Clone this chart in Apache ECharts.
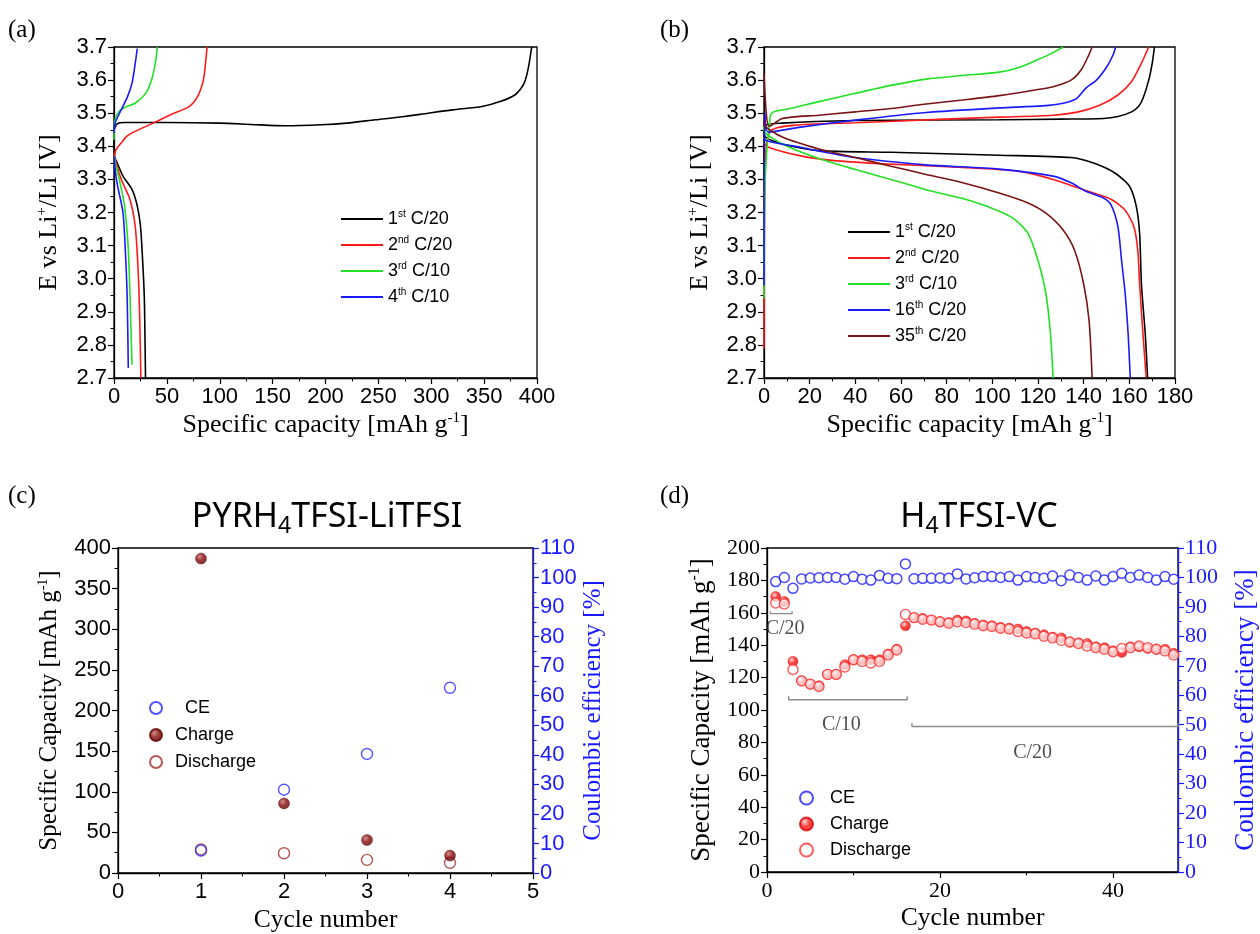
<!DOCTYPE html>
<html>
<head>
<meta charset="utf-8">
<script src="https://cdn.jsdelivr.net/npm/echarts@6/dist/echarts.min.js"></script>
<style>
html,body{margin:0;padding:0;background:#fff;}
#c{width:1260px;height:934px;}
</style>
</head>
<body>
<div id="c"></div>
<script>
// ---------- Panel (a): voltage profiles, PYRH4TFSI-LiTFSI ----------
const A_LABELS = ['1st C/20', '2nd C/20', '3rd C/10', '4th C/10'];
const A1_CHARGE = [[0,3.45],[3,3.468],[10,3.472],[50,3.472],[100,3.47],[130,3.466],[162,3.462],[196,3.465],[220,3.47],[247,3.48],[275,3.49],[297,3.5],[320,3.51],[348,3.52],[365,3.535],[379,3.555],[386,3.58],[389,3.6],[392,3.64],[395,3.7]];
const A1_DISCH = [[0,3.46],[0.5,3.37],[3,3.35],[8.5,3.31],[17,3.27],[22,3.22],[25,3.16],[27,3.06],[28.7,2.94],[29.3,2.82],[29.8,2.7]];
const A2_CHARGE = [[0,3.37],[2,3.39],[6.8,3.41],[12,3.43],[20,3.445],[37,3.47],[54,3.496],[71,3.52],[79,3.55],[84.5,3.6],[86.5,3.65],[88,3.7]];
const A2_DISCH = [[0,3.37],[3,3.34],[6.8,3.3],[15,3.24],[20,3.16],[22.6,3.04],[24.3,2.885],[25.4,2.7]];
const A3_CHARGE = [[0,3.42],[1,3.48],[5,3.506],[12,3.52],[20,3.53],[30,3.56],[35.5,3.6],[39,3.65],[41,3.7]];
const A3_DISCH = [[0,3.37],[2,3.34],[5,3.3],[10,3.22],[13.5,3.09],[15.2,2.94],[17,2.74]];
const A4_CHARGE = [[0,3.44],[1,3.47],[6.8,3.51],[12.8,3.55],[17,3.59],[19.6,3.64],[22,3.695]];
const A4_DISCH = [[0,3.37],[1.5,3.32],[3.4,3.28],[8.5,3.2],[10.8,3.08],[12.5,2.94],[13.5,2.73]];

// ---------- Panel (b): voltage profiles, H4TFSI-VC ----------
const B_LABELS = ['1st C/20', '2nd C/20', '3rd C/10', '16th C/20', '35th C/20'];
const B1_CHARGE = [[0,3.3],[0.5,3.46],[8,3.47],[40,3.478],[103,3.48],[130,3.482],[148.7,3.484],[155,3.49],[161,3.504],[164,3.52],[166,3.545],[168.5,3.6],[170,3.65],[171,3.7]];
const B1_DISCH = [[0,3.45],[0.3,3.43],[8,3.407],[24,3.387],[55.6,3.382],[103,3.373],[134.5,3.366],[144,3.35],[153.5,3.32],[160,3.28],[163,3.22],[164.5,3.137],[165.3,2.984],[167,2.83],[168,2.7]];
const B2_CHARGE = [[0,2.79],[0.3,3.3],[2.7,3.445],[16,3.465],[40,3.471],[79,3.482],[103,3.488],[126.6,3.494],[137.7,3.504],[147,3.524],[155,3.555],[161,3.596],[165,3.647],[168.5,3.7]];
const B2_DISCH = [[0,3.41],[1.9,3.397],[16,3.371],[32,3.356],[55.6,3.346],[87,3.336],[111,3.325],[126.6,3.3],[142,3.264],[152,3.24],[158,3.208],[162,3.157],[163.7,3.086],[164.5,2.984],[166,2.83],[167.4,2.7]];
const B3_CHARGE = [[0,2.94],[0.5,3.3],[2.7,3.49],[4.3,3.504],[11.4,3.514],[24,3.535],[40,3.56],[55.6,3.584],[71,3.603],[87,3.614],[103,3.624],[112,3.639],[120,3.662],[126.6,3.683],[131,3.7]];
const B3_DISCH = [[0,3.46],[0.3,3.443],[8,3.407],[24,3.363],[40,3.33],[55.6,3.3],[71,3.269],[87,3.242],[99.8,3.213],[109,3.183],[115.6,3.137],[120,3.055],[123.5,2.953],[125.5,2.83],[126.6,2.7]];
const B16_CHARGE = [[0,2.98],[0.4,3.5],[1.9,3.443],[16,3.458],[40,3.479],[71,3.502],[103,3.516],[122,3.522],[131,3.53],[137,3.545],[141,3.576],[145.6,3.6],[150.3,3.642],[153,3.678],[154,3.7]];
const B16_DISCH = [[0,3.44],[0.3,3.42],[16,3.397],[40,3.366],[71,3.344],[103,3.331],[126.6,3.31],[134.5,3.29],[141,3.264],[148.7,3.244],[152,3.223],[155,3.157],[156.6,3.055],[158.2,2.953],[159.5,2.83],[160.4,2.7]];
const B35_CHARGE = [[0,3.62],[1,3.5],[2.2,3.46],[8,3.484],[24,3.494],[40,3.504],[55.6,3.514],[71,3.528],[87,3.54],[103,3.553],[118.7,3.57],[126.6,3.58],[134.5,3.6],[139,3.632],[142.4,3.678],[143.7,3.7]];
const B35_DISCH = [[0,3.48],[0.3,3.463],[8,3.428],[24,3.392],[40,3.366],[55.6,3.34],[71,3.315],[87,3.29],[103,3.259],[115.6,3.229],[123.5,3.198],[131,3.147],[136,3.086],[140,2.984],[142.4,2.871],[143.7,2.7]];

// ---------- Panel (c): cycling, PYRH4TFSI-LiTFSI ----------
const C_CYCLES = [1, 2, 3, 4];
const C_CE = [7.6, 28.2, 40.3, 62.7];
const C_CHARGE = [387, 85.6, 40.6, 21.5];
const C_DISCHARGE = [29, 24.3, 16.2, 12.6];

// ---------- Panel (d): cycling, H4TFSI-VC ----------
const D_CYCLES = [1,2,3,4,5,6,7,8,9,10,11,12,13,14,15,16,17,18,19,20,21,22,23,24,25,26,27,28,29,30,31,32,33,34,35,36,37,38,39,40,41,42,43,44,45,46,47];
const D_CE = [98.6,100,96.3,99.5,99.8,99.9,100,100,99.4,100.3,99.4,99.1,100.7,99.7,99.6,104.6,99.6,99.7,99.7,99.8,99.7,101.2,99.5,99.9,100.3,100.3,100,100.3,99.1,100.3,100,99.7,100.5,98.9,100.8,100,99.1,100.5,99.1,100.3,101.4,100,100.8,100,99.1,100.3,99.4];
const D_CHARGE = [170,167,130,118,116,115,122,122,128,131,131,131,131,134.5,137.5,152,157,156.5,155.5,154.5,154,155.5,155,153.5,152.5,152,151,150.5,150,148.5,147.5,146.5,145,144.5,142,141.5,141,139,138.5,136.5,135.5,139,139,138,137.5,137.5,135];
const D_DISCHARGE = [166,165.5,125,118,116,114.5,122,122,126.5,131,130,129,130,134,137,159,157,156,155.5,154.5,153.5,154.5,154,153,152,151.5,150.5,150,148.5,147.5,147,145.5,144.5,143,142,141,139.5,138.5,137.5,136,138,138.5,139.5,138.5,137.5,136.5,134];
// rate brackets and labels (cycle, capacity)
const D_BRACKET_1 = [[0.4,161],[0.4,159.5],[2.9,159.5],[2.9,161]];
const D_BRACKET_2 = [[2.5,108.5],[2.5,106.3],[16.2,106.3],[16.2,108.5]];
const D_BRACKET_3 = [[16.75,92],[16.75,89.8],[47.5,89.8],[47.5,92]];
const D_ANNOT = [[2.1,150,'C/20'],[8.6,90.8,'C/10'],[30.7,73.6,'C/20']];

// ---------------------------------------------------------------
const SANS = 'Liberation Sans';
const SERIF = 'Liberation Serif';
const BLUE = '#1a1aff';

function pairs(xs, ys){ return xs.map((x,i)=>[x, ys[i]]); }

function supRich(size, font, color){
  return {
    n: {fontFamily: font, fontSize: size, color: color},
    s: {fontFamily: font, fontSize: Math.round(size*0.58), color: color, padding: [0,0,Math.round(size*0.55),0]}
  };
}
function ordFormatter(name){
  const s = name.split(':')[1];
  const m = s.match(/^(\d+)(st|nd|rd|th)(.*)$/);
  return '{n|' + m[1] + '}{s|' + m[2] + '}{n|' + m[3] + '}';
}
function nameStyle(size, color){
  return {fontFamily: SERIF, fontSize: size, color: color,
    rich: {t: {fontFamily: SERIF, fontSize: size, color: color},
           s: {fontFamily: SERIF, fontSize: Math.round(size*0.58), color: color, padding: [0,0,Math.round(size*0.5),0]}}};
}

function xAxisBase(grid, min, max, interval, name, labelFont, nameSize, nameGap){
  return {
    type: 'value', gridIndex: grid, min: min, max: max, interval: interval,
    axisLine: {show: true, onZero: false, lineStyle: {color: '#000', width: 1.3}},
    axisTick: {show: true, inside: false, length: 6, lineStyle: {color: '#000', width: 1.2}},
    minorTick: {show: true, splitNumber: 2, length: 3.5, lineStyle: {color: '#000', width: 1}},
    splitLine: {show: false},
    axisLabel: {fontFamily: labelFont, fontSize: 22, color: '#000', margin: 8},
    name: name, nameLocation: 'middle', nameGap: nameGap,
    nameTextStyle: nameStyle(nameSize, '#000')
  };
}
function yAxisBase(grid, min, max, interval, name, labelFont, nameSize, nameGap, color, pos, fmt){
  return {
    type: 'value', gridIndex: grid, min: min, max: max, interval: interval, position: pos,
    axisLine: {show: true, onZero: false, lineStyle: {color: color, width: 1.3}},
    axisTick: {show: true, inside: false, length: 6, lineStyle: {color: color, width: 1.2}},
    minorTick: {show: true, splitNumber: 2, length: 3.5, lineStyle: {color: color, width: 1}},
    splitLine: {show: false},
    axisLabel: {fontFamily: labelFont, fontSize: 22, color: color, margin: 7, formatter: fmt},
    name: name, nameLocation: 'middle', nameGap: nameGap,
    nameTextStyle: nameStyle(nameSize, color)
  };
}

function curve(name, data, color, xi, yi){
  return {type: 'line', name: name, xAxisIndex: xi, yAxisIndex: yi, data: data,
    symbol: 'none', smooth: 0.25, lineStyle: {color: color, width: 1.6}, itemStyle: {color: color},
    silent: true, animation: false, z: 3};
}
function ball(light, mid, dark){
  return {type: 'radial', x: 0.38, y: 0.35, r: 0.7,
    colorStops: [{offset: 0, color: light}, {offset: 0.45, color: mid}, {offset: 1, color: dark}]};
}

const A_COLORS = ['#000000', '#ff1a1a', '#22e022', '#1a1aff'];
const B_COLORS = ['#000000', '#ff1a1a', '#22e022', '#1a1aff', '#7a1414'];
const A_DATA = [[A1_CHARGE, A1_DISCH],[A2_CHARGE, A2_DISCH],[A3_CHARGE, A3_DISCH],[A4_CHARGE, A4_DISCH]];
const B_DATA = [[B1_CHARGE, B1_DISCH],[B2_CHARGE, B2_DISCH],[B3_CHARGE, B3_DISCH],[B16_CHARGE, B16_DISCH],[B35_CHARGE, B35_DISCH]];

const series = [];
A_DATA.forEach((d, i) => {
  series.push(curve('a:' + A_LABELS[i], d[0], A_COLORS[i], 0, 0));
  series.push(curve('a:' + A_LABELS[i], d[1], A_COLORS[i], 0, 0));
});
B_DATA.forEach((d, i) => {
  series.push(curve('b:' + B_LABELS[i], d[0], B_COLORS[i], 1, 1));
  series.push(curve('b:' + B_LABELS[i], d[1], B_COLORS[i], 1, 1));
});

// panel (c)
series.push({type: 'scatter', name: 'c:Discharge', xAxisIndex: 2, yAxisIndex: 2, data: pairs(C_CYCLES, C_DISCHARGE),
  symbol: 'circle', symbolSize: 11, itemStyle: {color: '#ffffff', borderColor: '#a3302c', borderWidth: 1.4}, animation: false, z: 3});
series.push({type: 'scatter', name: 'c:Charge', xAxisIndex: 2, yAxisIndex: 2, data: pairs(C_CYCLES, C_CHARGE),
  symbol: 'circle', symbolSize: 11, itemStyle: {color: ball('#c87070', '#8a0a0a', '#560000'), borderColor: '#600000', borderWidth: 0.5}, animation: false, z: 4});
series.push({type: 'scatter', name: 'c:CE', xAxisIndex: 2, yAxisIndex: 3, data: pairs(C_CYCLES, C_CE),
  symbol: 'circle', symbolSize: 11, itemStyle: {color: 'rgba(255,255,255,0)', borderColor: '#2a2aff', borderWidth: 1.4}, animation: false, z: 5});

// panel (d)
series.push({type: 'scatter', name: 'd:CE', xAxisIndex: 3, yAxisIndex: 5, data: pairs(D_CYCLES, D_CE),
  symbol: 'circle', symbolSize: 10, itemStyle: {color: '#ffffff', borderColor: '#1a1aff', borderWidth: 1.5}, animation: false, z: 3});
series.push({type: 'scatter', name: 'd:Charge', xAxisIndex: 3, yAxisIndex: 4, data: pairs(D_CYCLES, D_CHARGE),
  symbol: 'circle', symbolSize: 10, itemStyle: {color: ball('#ffd0d0', '#ff1a1a', '#d80000'), borderColor: '#e00000', borderWidth: 0.5}, animation: false, z: 3});
series.push({type: 'scatter', name: 'd:Discharge', xAxisIndex: 3, yAxisIndex: 4, data: pairs(D_CYCLES, D_DISCHARGE),
  symbol: 'circle', symbolSize: 10, itemStyle: {color: 'rgba(255,255,255,0.85)', borderColor: '#ff3030', borderWidth: 1.4}, animation: false, z: 4});
[D_BRACKET_1, D_BRACKET_2, D_BRACKET_3].forEach((b, i) => {
  series.push({type: 'line', name: 'bracket' + i, xAxisIndex: 3, yAxisIndex: 4, data: b, symbol: 'none',
    lineStyle: {color: '#8c8c8c', width: 1.4}, silent: true, animation: false, z: 2});
});
series.push({type: 'scatter', name: 'annot', xAxisIndex: 3, yAxisIndex: 4, data: D_ANNOT,
  symbolSize: 1, itemStyle: {color: 'rgba(0,0,0,0)'}, silent: true, animation: false,
  label: {show: true, position: 'inside', formatter: p => p.data[2], fontFamily: SERIF, fontSize: 20, color: '#222'}});

const titleRich = {
  a: {fontFamily: 'Noto Sans', fontSize: 34, fontWeight: 'normal', color: '#000'},
  b: {fontFamily: 'Noto Sans', fontSize: 23, fontWeight: 'normal', color: '#000', padding: [18,0,0,0]}
};

const option = {
  backgroundColor: '#ffffff',
  animation: false,
  title: [
    {text: '{a|PYRH}{b|4}{a|TFSI-LiTFSI}', left: 322, top: 492, textAlign: 'center',
      textStyle: {fontWeight: 'normal', rich: titleRich}},
    {text: '{a|H}{b|4}{a|TFSI-VC}', left: 974, top: 492, textAlign: 'center',
      textStyle: {fontWeight: 'normal', rich: titleRich}}
  ],
  graphic: [
    {type: 'text', left: 8, top: 18, style: {text: '(a)', font: '25px "Liberation Serif"', fill: '#000'}},
    {type: 'text', left: 660, top: 18, style: {text: '(b)', font: '25px "Liberation Serif"', fill: '#000'}},
    {type: 'text', left: 8, top: 484, style: {text: '(c)', font: '25px "Liberation Serif"', fill: '#000'}},
    {type: 'text', left: 660, top: 484, style: {text: '(d)', font: '25px "Liberation Serif"', fill: '#000'}}
  ],
  grid: [
    {left: 114, top: 47, width: 423, height: 331, show: true, borderColor: '#000', borderWidth: 1.3, backgroundColor: 'rgba(0,0,0,0)'},
    {left: 764, top: 47, width: 411, height: 331, show: true, borderColor: '#000', borderWidth: 1.3, backgroundColor: 'rgba(0,0,0,0)'},
    {left: 118, top: 548, width: 415, height: 327, show: true, borderColor: '#000', borderWidth: 1.3, backgroundColor: 'rgba(0,0,0,0)'},
    {left: 767, top: 548, width: 416, height: 324, show: true, borderColor: '#000', borderWidth: 1.3, backgroundColor: 'rgba(0,0,0,0)'}
  ],
  xAxis: [
    xAxisBase(0, 0, 400, 50, '{t|Specific capacity [mAh g}{s|-1}{t|]}', SANS, 26, 33),
    xAxisBase(1, 0, 180, 20, '{t|Specific capacity [mAh g}{s|-1}{t|]}', SANS, 26, 33),
    xAxisBase(2, 0, 5, 1, 'Cycle number', SANS, 25.5, 34),
    Object.assign(xAxisBase(3, 0, 47.5, 20, 'Cycle number', SERIF, 25.5, 33), {
      axisTick: {show: true, length: 6, customValues: [0, 20, 40], lineStyle: {color: '#000', width: 1.2}},
      axisLabel: {fontFamily: SERIF, fontSize: 22, color: '#000', margin: 8, customValues: [0, 20, 40]},
      minorTick: {show: false}
    }),
    {type: 'value', gridIndex: 3, min: 0, max: 47.5, position: 'bottom',
      axisLine: {show: false}, axisLabel: {show: false}, splitLine: {show: false},
      axisTick: {show: true, length: 3.5, customValues: [10, 30], lineStyle: {color: '#000', width: 1}}}
  ],
  yAxis: [
    yAxisBase(0, 2.7, 3.7, 0.1, '{t|E vs Li}{s|+}{t|/Li [V]}', SANS, 26, 51, '#000', 'left', v => v.toFixed(1)),
    yAxisBase(1, 2.7, 3.7, 0.1, '{t|E vs Li}{s|+}{t|/Li [V]}', SANS, 26, 50, '#000', 'left', v => v.toFixed(1)),
    yAxisBase(2, 0, 400, 50, '{t|Specific Capacity [mAh g}{s|-1}{t|]}', SANS, 25, 55, '#000', 'left'),
    yAxisBase(2, 0, 110, 10, 'Coulombic efficiency [%]', SANS, 25, 48, BLUE, 'right'),
    yAxisBase(3, 0, 200, 20, '{t|Specific Capacity [mAh g}{s|-1}{t|]}', SERIF, 27, 50, '#000', 'left'),
    yAxisBase(3, 0, 110, 10, 'Coulombic efficiency [%]', SERIF, 27, 54, BLUE, 'right')
  ],
  legend: [
    {data: A_LABELS.map(l => 'a:' + l), orient: 'vertical', left: 336, top: 204, icon: 'rect', itemWidth: 42, itemHeight: 2, itemGap: 7,
      formatter: ordFormatter, textStyle: {fontFamily: SANS, fontSize: 18, color: '#000', rich: supRich(18, SANS, '#000')}, selectedMode: false},
    {data: B_LABELS.map(l => 'b:' + l), orient: 'vertical', left: 843, top: 217, icon: 'rect', itemWidth: 42, itemHeight: 2, itemGap: 7,
      formatter: ordFormatter, textStyle: {fontFamily: SANS, fontSize: 18, color: '#000', rich: supRich(18, SANS, '#000')}, selectedMode: false},
    {data: ['c:CE', 'c:Charge', 'c:Discharge'], orient: 'vertical', left: 144, top: 694, itemWidth: 12, itemHeight: 12, itemGap: 9,
      formatter: n => (n === 'c:CE' ? '  ' : '') + n.split(':')[1], textStyle: {fontFamily: SANS, fontSize: 18, color: '#000', padding: [0,0,0,8]}, selectedMode: false},
    {data: ['d:CE', 'd:Charge', 'd:Discharge'], orient: 'vertical', left: 794, top: 784, itemWidth: 13, itemHeight: 13, itemGap: 8,
      formatter: n => n.split(':')[1], textStyle: {fontFamily: SANS, fontSize: 18, color: '#000', padding: [0,0,0,12]}, selectedMode: false}
  ],
  series: series
};

const chart = echarts.init(document.getElementById('c'), null, {renderer: 'canvas', width: 1260, height: 934});
chart.setOption(option);
</script>
</body>
</html>
